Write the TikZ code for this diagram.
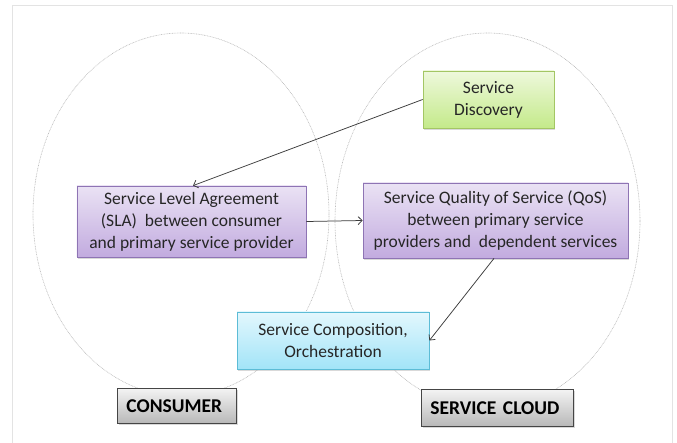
\documentclass[tikz,border=0pt]{standalone}
\usepackage{fontspec}
\setmainfont{Carlito}
\usetikzlibrary{arrows.meta,shadows}
\definecolor{frameC}{HTML}{E3E3E3}
\definecolor{ovalC}{HTML}{B8B8B8}
\definecolor{arrC}{HTML}{3A3A3A}
\definecolor{grnTop}{HTML}{EEF8DC}
\definecolor{grnBot}{HTML}{C4EA8A}
\definecolor{grnBrd}{HTML}{A3C664}
\definecolor{purTop}{HTML}{EAE2F4}
\definecolor{purBot}{HTML}{C2ABDF}
\definecolor{purBrd}{HTML}{8E74B4}
\definecolor{cyaTop}{HTML}{E3F7FD}
\definecolor{cyaBot}{HTML}{A2E4F8}
\definecolor{cyaBrd}{HTML}{5CBCD6}
\definecolor{gryTop}{HTML}{F3F3F3}
\definecolor{gryBot}{HTML}{B8B8B8}
\definecolor{gryBrd}{HTML}{454545}
\begin{document}
\begin{tikzpicture}[x=1bp,y=-1bp,
  basebox/.style={rectangle, inner sep=0pt, align=center,
    font=\fontsize{17.5bp}{22bp}\selectfont, text=black!85, line width=0.75bp,
    drop shadow={shadow xshift=1.2bp, shadow yshift=-1.8bp, opacity=0.3}},
  greenbox/.style={basebox, draw=grnBrd, top color=grnTop, bottom color=grnBot},
  purplebox/.style={basebox, draw=purBrd, top color=purTop, bottom color=purBot},
  cyanbox/.style={basebox, draw=cyaBrd, top color=cyaTop, bottom color=cyaBot},
  labelbox/.style={rectangle, draw=gryBrd, line width=0.9bp, top color=gryTop, bottom color=gryBot,
    font=\bfseries\fontsize{19.5bp}{22bp}\selectfont, text=black, align=left,
    inner xsep=9bp, inner ysep=0pt, anchor=north west,
    drop shadow={shadow xshift=1.2bp, shadow yshift=-1.8bp, opacity=0.3}},
  oval/.style={draw=ovalC, line width=0.6bp, dash pattern=on 0.8bp off 0.8bp},
  arr/.style={draw=arrC, line width=0.75bp, -{Straight Barb[length=4bp,width=8bp]}}
]
\useasboundingbox (0,0) rectangle (677,443);
% frame
\draw[frameC, line width=1bp] (12,445) -- (12,6) -- (672,6) -- (672,445);
% ovals
\draw[oval] (181,214.5) ellipse [x radius=148, y radius=181.5];
\draw[oval] (487.5,221) ellipse [x radius=152.5, y radius=188];
% boxes
\node[greenbox, minimum width=131bp, minimum height=57bp] (sd) at (488.5,99.5) {Service\\Discovery};
\node[purplebox, minimum width=229bp, minimum height=71bp] (sla) at (191.5,221.5)
  {Service Level Agreement\\(SLA)~ between consumer\\and primary service provider};
\node[purplebox, minimum width=265bp, minimum height=75bp] (qos) at (495.5,220.5)
  {Service Quality of Service (QoS)\\between primary service\\providers and~ dependent services};
\node[cyanbox, minimum width=192bp, minimum height=57bp] (comp) at (333,340.5)
  {Service Composition,\\Orchestration};
\node[labelbox, text width=101bp, minimum height=35bp] (cons) at (117,388) {CONSUMER};
\node[labelbox, text width=134bp, minimum height=37bp] (cloud) at (421,389) {SERVICE CLOUD};
% connectors
\draw[arr] (sd.west) -- ([xshift=1.5bp]sla.north);
\draw[arr] (sla.east) -- (qos.west);
\draw[arr] ([xshift=-1.5bp]qos.south) -- (comp.east);
\end{tikzpicture}
\end{document}
